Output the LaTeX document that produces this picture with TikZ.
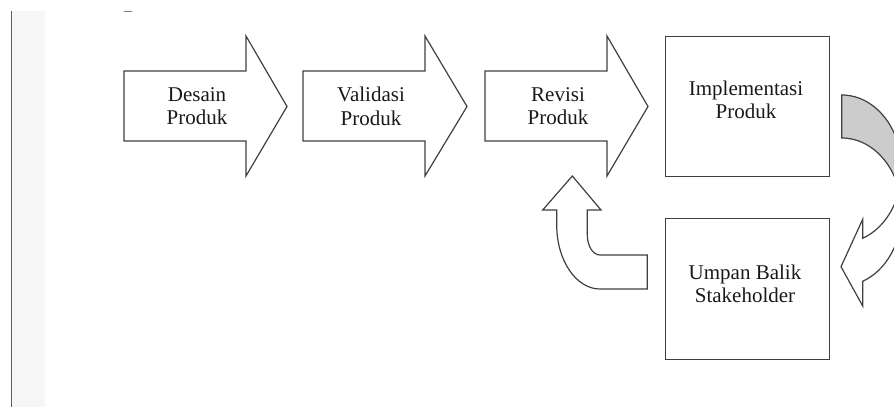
\documentclass[tikz,border=0pt]{standalone}
\usepackage{fontspec}
\setmainfont{Liberation Serif}
\usepackage{tikz}

\definecolor{edge}{HTML}{404040}
\definecolor{shade}{HTML}{CCCCCC}
\definecolor{rule}{HTML}{3F5FA8}
\definecolor{strip}{HTML}{F6F6F6}

\begin{document}
\begin{tikzpicture}[x = 0.5pt, y = -0.5pt,
  outline/.style = {draw = edge, line width = 0.6pt, line join = miter},
  txt/.style = {align = center, inner sep = 0pt, text = black!90, font = \fontsize{10.5}{11.6}\selectfont}]
\useasboundingbox (0,0) rectangle (894,407);
\clip (0,0) rectangle (894,407);

% page margin
\fill[strip] (12,11) rectangle (45,407);
\draw[rule, line width = 0.6pt] (11.5,11) coordinate (ruletop) -- (11.5,407) coordinate (rulebot);
\draw[edge!70, line width = 0.8pt] (124,11.5) coordinate (dasha) -- (132,11.5) coordinate (dashb);

% block arrows
\draw[outline, fill = white] (124,71) -- (246,71) -- (246,36) -- (287,106.5) -- (246,176) -- (246,141) -- (124,141) -- cycle;
\node[txt] (desain) at (197,106.4) {Desain\\Produk};

\draw[outline, fill = white] (303,71) -- (425,71) -- (425,36) -- (467,106.5) -- (425,176) -- (425,141) -- (303,141) -- cycle;
\node[txt] (validasi) at (371,106.4) {Validasi\\Produk};

\draw[outline, fill = white] (485,71) -- (607,71) -- (607,36) -- (648,106.5) -- (607,176) -- (607,141) -- (485,141) -- cycle;
\node[txt] (revisi) at (558,106.4) {Revisi\\Produk};

% boxes
\node[outline, line width = 0.7pt, minimum width = 82pt, minimum height = 70pt, anchor = north west] (implbox) at (665,36) {};
\node[txt] (impl) at (746,99.5) {Implementasi\\Produk};

\node[outline, line width = 0.7pt, minimum width = 82.25pt, minimum height = 70.25pt, anchor = north west] (umpanbox) at (664.5,218) {};
\node[txt] (umpan) at (745,283.9) {Umpan Balik\\Stakeholder};

% curved arrow on the right
\draw[outline, fill = shade] (841.7,95) arc[start angle = -90, end angle = 0, x radius = 60, y radius = 74]
  -- (901.7,212) arc[start angle = 0, end angle = -90, x radius = 60, y radius = 74] -- cycle;
\draw[outline, fill = white] (901.7,169) arc[start angle = 0, end angle = 69.5, x radius = 60, y radius = 74]
  -- (862.7,219.3) -- (841,266.7) -- (862.7,306) -- (862.7,281.3)
  arc[start angle = 69.5, end angle = 0, x radius = 60, y radius = 74] -- cycle;

% bent arrow back to revisi
\draw[outline, fill = white] (572.3,176) -- (601,210) -- (587.3,210) -- (587.3,235)
  arc[start angle = 180, end angle = 90, x radius = 12.7, y radius = 20]
  -- (647.3,255) -- (647.3,289) -- (600,289)
  arc[start angle = 90, end angle = 180, x radius = 43.3, y radius = 64]
  -- (556.7,210) -- (542.7,210) -- cycle;
\end{tikzpicture}
\end{document}
